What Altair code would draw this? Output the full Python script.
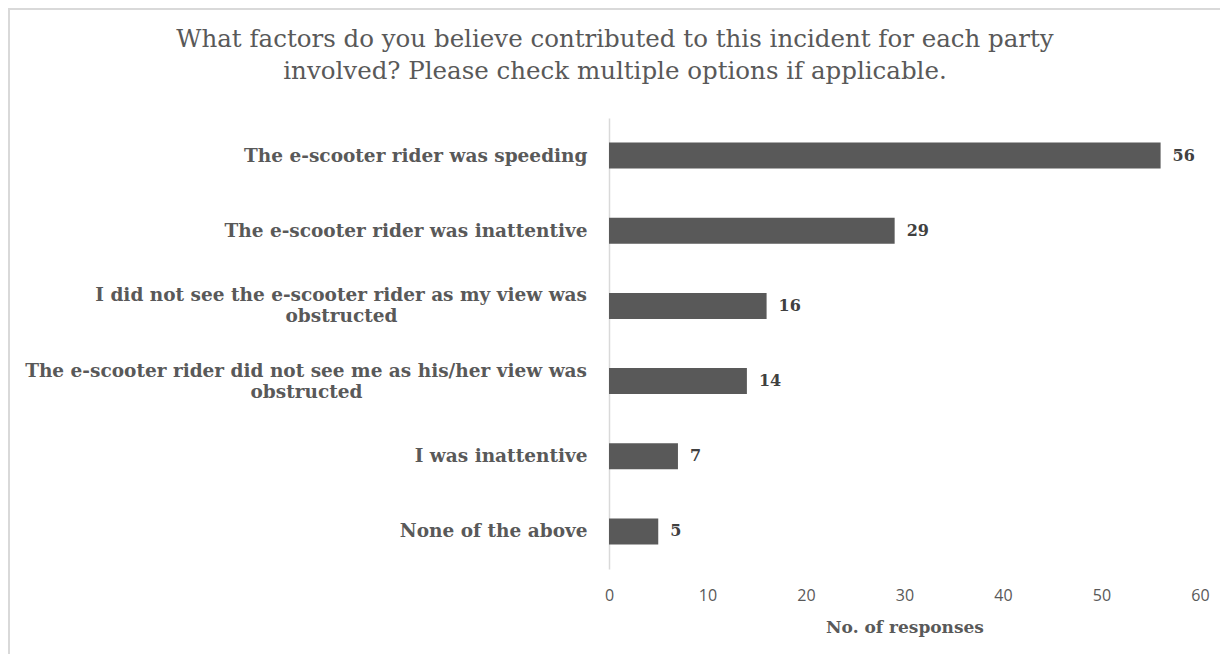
import altair as alt
import pandas as pd

categories = [
    "The e-scooter rider was speeding",
    "The e-scooter rider was inattentive",
    "I did not see the e-scooter rider as my view was\nobstructed",
    "The e-scooter rider did not see me as his/her view was\nobstructed",
    "I was inattentive",
    "None of the above",
]
responses = [56, 29, 16, 14, 7, 5]
tick_values = [0, 10, 20, 30, 40, 50, 60]
title_lines = [
    "What factors do you believe contributed to this incident for each party",
    "involved? Please check multiple options if applicable.",
]
x_title = "No. of responses"

df = pd.DataFrame({"factor": categories, "n": responses})

GREY = "#595959"
SERIF = "DejaVu Serif"
LABEL_SIZE = 18.5
LABEL_PAD = 22
LINE_H = 21
# approximate pixel widths of the first line of the wrapped labels (for centring line 2)
wrapped_first_line_width = {categories[2]: 491, categories[3]: 561}

y_enc = alt.Y(
    "factor:N",
    sort=categories,
    title=None,
    axis=alt.Axis(
        domain=True,
        domainColor="#d9d9d9",
        domainWidth=1.5,
        ticks=False,
        grid=False,
        labelFont=SERIF,
        labelFontWeight="bold",
        labelFontSize=LABEL_SIZE,
        labelColor=GREY,
        labelPadding=LABEL_PAD,
        labelLimit=0,
        labelExpr="indexof(datum.label, '\\n') >= 0 ? '' : datum.label",
    ),
)
x_enc = alt.X(
    "n:Q",
    scale=alt.Scale(domain=[0, 60], nice=False),
    axis=alt.Axis(
        values=tick_values,
        domain=False,
        ticks=False,
        grid=False,
        labelFlush=False,
        labelFont="Open Sans",
        labelFontSize=16,
        labelColor=GREY,
        labelPadding=18,
        title=x_title,
        titleFont=SERIF,
        titleFontWeight="bold",
        titleFontSize=17,
        titleColor=GREY,
        titlePadding=16,
    ),
)

base = alt.Chart(df)

bars = base.mark_bar(size=26, color=GREY).encode(x=x_enc, y=y_enc)

values = base.mark_text(
    align="left", baseline="middle", dx=12, font=SERIF, fontWeight="bold",
    fontSize=16, color="#404040",
).encode(x="n:Q", y=alt.Y("factor:N", sort=categories), text="n:Q")

# wrapped labels: first line right-aligned, second line centred beneath it
wrapped = []
for cat, w in wrapped_first_line_width.items():
    src = base.transform_filter(alt.datum.factor == cat).transform_calculate(
        line1="split(datum.factor, '\\n')[0]",
        line2="split(datum.factor, '\\n')[1]",
    )
    style = dict(baseline="middle", font=SERIF, fontWeight="bold",
                 fontSize=LABEL_SIZE, color=GREY)
    wrapped.append(
        src.mark_text(align="right", dy=-LINE_H / 2, **style).encode(
            x=alt.value(-LABEL_PAD), y=alt.Y("factor:N", sort=categories),
            text="line1:N",
        )
    )
    wrapped.append(
        src.mark_text(align="center", dy=LINE_H / 2, **style).encode(
            x=alt.value(-LABEL_PAD - w / 2), y=alt.Y("factor:N", sort=categories),
            text="line2:N",
        )
    )

one = pd.DataFrame({"t": [0]})

title = alt.Chart(one).mark_text(
    text=title_lines, align="center", baseline="middle", lineHeight=32,
    font=SERIF, fontSize=24.5, color=GREY,
).encode(x=alt.value(6), y=alt.value(-78))

# outer chart frame (left and top edges; right and bottom run off the page)
frame_top = alt.Chart(one).mark_rule(color="#d9d9d9", strokeWidth=2).encode(
    x=alt.value(-600), x2=alt.value(640), y=alt.value(-109)
)
frame_left = alt.Chart(one).mark_rule(color="#d9d9d9", strokeWidth=2).encode(
    x=alt.value(-600), y=alt.value(-110), y2=alt.value(560)
)

chart = (
    alt.layer(frame_top, frame_left, title, bars, values, *wrapped)
    .properties(
        width=591,
        height=451,
        background="white",
        autosize=alt.AutoSizeParams(type="none"),
        padding={"left": 601, "top": 110, "right": 20, "bottom": 85},
    )
    .configure_view(stroke=None, strokeWidth=0)
)

chart.save("out.html", embed_options={"renderer": "svg", "actions": False})
